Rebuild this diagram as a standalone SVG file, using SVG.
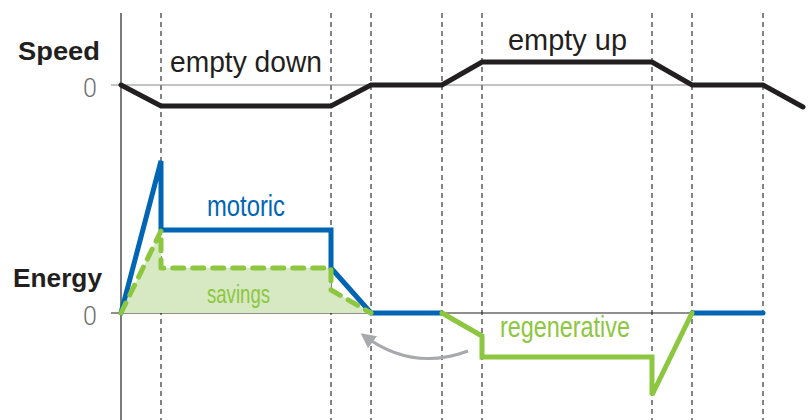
<svg xmlns="http://www.w3.org/2000/svg" width="812" height="420" viewBox="0 0 812 420">
<defs>
<style>
.grid{stroke:#333;stroke-width:1.2;stroke-dasharray:5,4;fill:none}
.axis{stroke:#231f20;stroke-width:1.2;fill:none}
.zero{stroke:#888;stroke-width:1;fill:none}
.speed{stroke:#231f20;stroke-width:5;fill:none;stroke-linejoin:miter;stroke-linecap:round}
.motor{stroke:#0066b3;stroke-width:5;fill:none;stroke-linejoin:miter;stroke-linecap:round}
.regen{stroke:#8dc63f;stroke-width:5;fill:none;stroke-linejoin:miter;stroke-linecap:round}
.dashg{stroke:#8dc63f;stroke-width:5;fill:none;stroke-dasharray:11,9;stroke-linecap:round;stroke-linejoin:round}
.fill{fill:#d6e9c3;stroke:none}
.title{font-family:"Liberation Sans",Arial,sans-serif;font-weight:bold;fill:#231f20;font-size:26px}
.zlab{font-family:"Roboto","Liberation Sans",sans-serif;font-weight:300;fill:#6d6e71;font-size:25px}
.lab{font-family:"Liberation Sans",Arial,sans-serif;fill:#231f20;font-size:29px}
.cond{font-family:"Liberation Sans",Arial,sans-serif}
</style>
<marker id="ah" viewBox="0 0 10 10" refX="8" refY="5" markerWidth="5" markerHeight="5" orient="auto-start-reverse" markerUnits="strokeWidth">
<path d="M0,0 L10,5 L0,10 z" fill="#a7a9ac"/>
</marker>
</defs>
<g id="grid">
<line class="grid" x1="161" y1="13" x2="161" y2="420"/>
<line class="grid" x1="331" y1="13" x2="331" y2="420"/>
<line class="grid" x1="371" y1="13" x2="371" y2="420"/>
<line class="grid" x1="442" y1="13" x2="442" y2="420"/>
<line class="grid" x1="482" y1="13" x2="482" y2="420"/>
<line class="grid" x1="652" y1="13" x2="652" y2="420"/>
<line class="grid" x1="692" y1="13" x2="692" y2="420"/>
<line class="grid" x1="763" y1="13" x2="763" y2="420"/>
<line class="axis" x1="121" y1="13" x2="121" y2="420"/>
<line class="zero" x1="111" y1="85" x2="692" y2="85"/>
<line class="axis" x1="111" y1="313" x2="763" y2="313"/>
</g>
<g id="labels">
<text class="title" x="18" y="60" textLength="82" lengthAdjust="spacingAndGlyphs">Speed</text>
<text class="zlab" x="83" y="97">0</text>
<text class="title" x="13" y="287" textLength="89" lengthAdjust="spacingAndGlyphs">Energy</text>
<text class="zlab" x="83" y="325">0</text>
<text class="lab" x="170" y="72" textLength="152" lengthAdjust="spacingAndGlyphs">empty down</text>
<text class="lab" x="508" y="50" textLength="119" lengthAdjust="spacingAndGlyphs">empty up</text>
</g>
<g id="savings-area">
<polygon class="fill" points="121,313 161,231 161,268 331,268 331,290 371,313"/>
</g>
<g id="speed-curve">
<polyline class="speed" points="121,85 161,106 331,106 371,85 442,85 482,62 652,62 692,85 763,85 803,107"/>
</g>
<g id="motoric">
<polyline class="motor" points="121,313 161,161 161,230 331,230 331,268 371,313 442,313"/>
<line class="motor" x1="692" y1="313" x2="763" y2="313"/>
<text class="cond" x="207" y="216" font-size="30" fill="#0066b3" textLength="78" lengthAdjust="spacingAndGlyphs">motoric</text>
</g>
<g id="savings">
<polyline class="dashg" points="121,313 161,231 161,268 331,268 331,290 371,313"/>
<text class="cond" x="207" y="303" font-size="25" fill="#8dc63f" textLength="63" lengthAdjust="spacingAndGlyphs">savings</text>
</g>
<g id="regenerative">
<polyline class="regen" points="442,313 482,336 482,357 652,357 652,395 692,313"/>
<text class="cond" x="500" y="337" font-size="30" fill="#8dc63f" textLength="130" lengthAdjust="spacingAndGlyphs">regenerative</text>
</g>
<g id="connectors">
<path d="M468,351 Q412,372 363,335" fill="none" stroke="#a7a9ac" stroke-width="3" marker-end="url(#ah)"/>
</g>
</svg>
